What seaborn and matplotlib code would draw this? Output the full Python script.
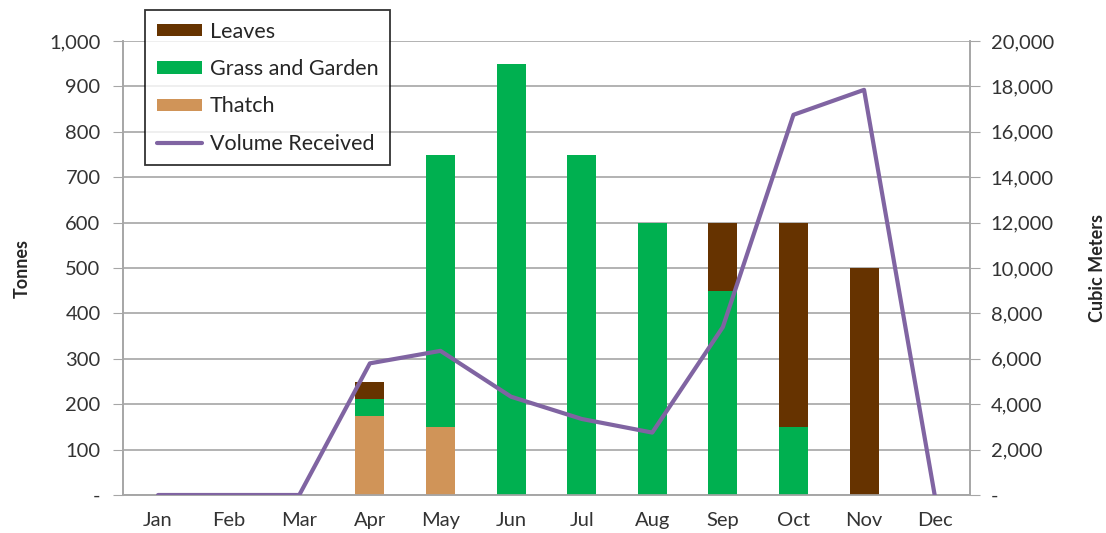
import numpy as np
import pandas as pd
import matplotlib
matplotlib.use("Agg")
import matplotlib.pyplot as plt
import seaborn as sns
from matplotlib.ticker import FuncFormatter, MultipleLocator
from matplotlib.patches import Patch
from matplotlib.lines import Line2D

months = ["Jan", "Feb", "Mar", "Apr", "May", "Jun", "Jul", "Aug", "Sep", "Oct", "Nov", "Dec"]
thatch = [0, 0, 0, 173, 150, 0, 0, 0, 0, 0, 0, 0]
grass = [0, 0, 0, 39, 600, 950, 750, 600, 450, 150, 0, 0]
leaves = [0, 0, 0, 38, 0, 0, 0, 0, 150, 450, 500, 0]
volume = [0, 0, 0, 5800, 6350, 4330, 3350, 2750, 7400, 16750, 17850, 0]

c_leaves = "#663300"
c_grass = "#00B050"
c_thatch = "#D09458"
c_line = "#8064A2"
grid_c = "#A6A6A6"

sns.set_style("white")
plt.rcParams["font.family"] = ["Lato", "DejaVu Sans"]

df = pd.DataFrame({"month": months, "thatch": thatch, "grass": grass, "leaves": leaves, "volume": volume})
df["tg"] = df["thatch"] + df["grass"]

fig = plt.figure(figsize=(11.06, 5.33), dpi=100)
ax = fig.add_axes([0.111, 0.0713, 0.766, 0.8517])

bw = 0.41
kw = dict(width=bw, ax=ax, saturation=1, zorder=3, linewidth=0, edgecolor="none")
sns.barplot(data=df, x="month", y="thatch", color=c_thatch, **kw)
sns.barplot(data=df, x="month", y="grass", bottom=df["thatch"], color=c_grass, **kw)
sns.barplot(data=df, x="month", y="leaves", bottom=df["tg"], color=c_leaves, **kw)

ax.set_xlim(-0.5, 11.5)
ax.set_ylim(0, 1000)
ax.yaxis.set_major_locator(MultipleLocator(100))
fmt = FuncFormatter(lambda v, p: "-" if v == 0 else f"{v:,.0f}")
ax.yaxis.set_major_formatter(fmt)
ax.grid(axis="y", color=grid_c, linewidth=1.2, zorder=0)
ax.set_axisbelow(True)
ax.set_xlabel("")
ax.set_ylabel("Tonnes", fontsize=13, fontweight="bold", labelpad=13)
ax.spines["top"].set_visible(False)
for s in ["left", "bottom", "right"]:
    ax.spines[s].set_color(grid_c)
    ax.spines[s].set_linewidth(1.2)
ax.tick_params(axis="y", which="major", length=7, color=grid_c, labelsize=14.5, labelcolor="#333333", pad=9)
ax.tick_params(axis="x", length=0, labelsize=14.5, labelcolor="#333333", pad=12)

ax2 = ax.twinx()
df["pos"] = np.arange(len(months))
sns.lineplot(data=df, x="pos", y="volume", color=c_line, linewidth=3, ax=ax2, zorder=4)
ax2.set_ylim(0, 20000)
ax2.yaxis.set_major_locator(MultipleLocator(2000))
ax2.yaxis.set_major_formatter(fmt)
ax2.set_ylabel("Cubic Meters", fontsize=13, fontweight="bold", labelpad=25)
ax2.set_xlabel("")
ax2.set_xlim(-0.5, 11.5)
ax2.spines["top"].set_visible(False)
for s in ["left", "bottom", "right"]:
    ax2.spines[s].set_color(grid_c)
    ax2.spines[s].set_linewidth(1.2)
ax2.tick_params(axis="y", which="major", length=7, color=grid_c, labelsize=14.5, labelcolor="#333333", pad=8)

handles = [
    Patch(facecolor=c_leaves, edgecolor="none"),
    Patch(facecolor=c_grass, edgecolor="none"),
    Patch(facecolor=c_thatch, edgecolor="none"),
    Line2D([0], [0], color=c_line, linewidth=3),
]
labels = ["Leaves", "Grass and Garden", "Thatch", "Volume Received"]
leg = fig.legend(handles, labels, loc="upper left", bbox_to_anchor=(145 / 1106, 1 - 10 / 533),
                 borderaxespad=0, frameon=True, fancybox=False, edgecolor="black", fontsize=15.5,
                 handlelength=2.1, handleheight=0.5, labelspacing=0.8, borderpad=0.55,
                 handletextpad=0.35)
leg.get_frame().set_linewidth(1.3)
leg.set_zorder(10)

fig.savefig("out.png", dpi=100)
